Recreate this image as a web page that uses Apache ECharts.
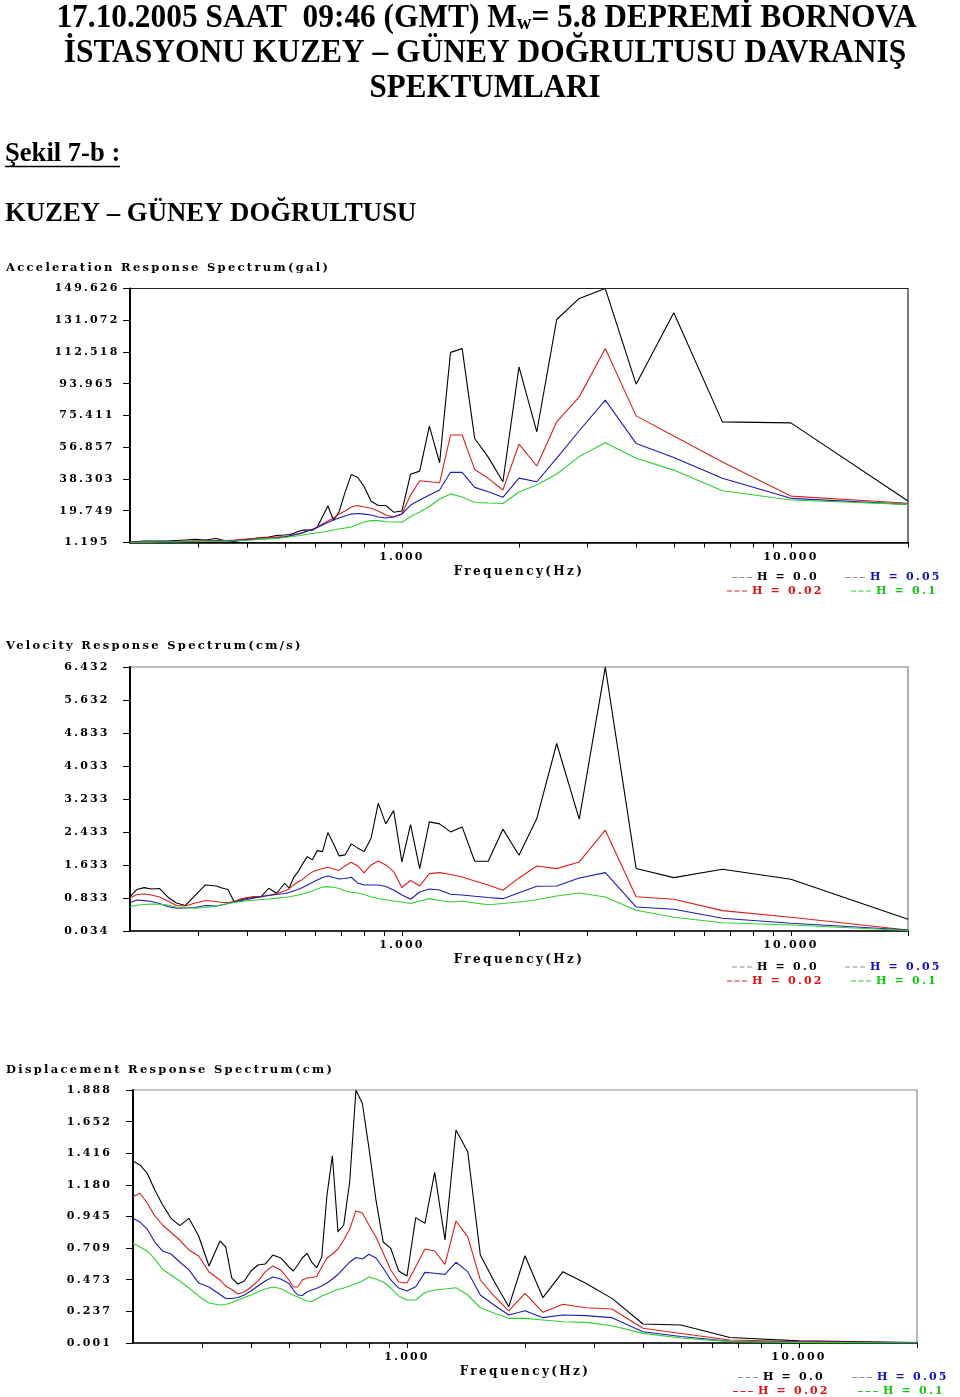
<!DOCTYPE html>
<html>
<head>
<meta charset="utf-8">
<style>
html,body{margin:0;padding:0;background:#fff;}
#c{width:960px;height:1397px;}
</style>
<script src="https://cdn.jsdelivr.net/npm/echarts@6.0.0/dist/echarts.min.js"></script>
</head>
<body>
<div id="c"></div>
<script>
// ---------------- DATA ----------------
// Periods (s) of the spectral ordinates; frequency = 1 / period
const periods = [0.05,0.10,0.15,0.20,0.25,0.30,0.35,0.40,0.45,0.50,0.55,0.60,0.65,0.70,0.75,0.80,0.85,0.90,0.95,1.00,
  1.05,1.10,1.15,1.20,1.25,1.30,1.35,1.40,1.45,1.50,1.55,1.60,1.65,1.70,1.75,1.80,1.85,1.90,1.95,2.00,
  2.1,2.2,2.3,2.4,2.5,2.6,2.7,2.8,2.9,3.0,
  3.2,3.4,3.6,3.8,4.0,4.2,4.4,4.6,4.8,5.0];

// Acceleration (gal)
const accH0 = [25.4,71.1,71.7,135.4,93.7,149.6,143.8,131.5,65.9,103.8,36.7,51.1,62.0,114.5,112.3,47.8,69.2,42.9,41.1,19.6,
  18.9,22.8,22.8,25.3,33.8,39.3,40.9,30.5,19.2,14.3,22.5,16.3,10.2,8.4,8.4,8.4,7.6,6.5,5.9,5.6,
  5.3,4.4,4.1,3.5,3.0,2.4,1.8,2.1,2.7,3.5,
  2.7,3.0,2.7,2.4,2.1,2.1,2.1,2.1,1.8,1.5];
const accH002 = [24.1,28.3,48.2,63.4,75.2,114.6,86.3,71.7,45.9,58.7,31.9,38.7,43.9,64.0,64.0,36.1,36.7,37.3,28.9,17.8,
  16.1,17.3,19.6,21.2,21.9,22.8,21.9,19.6,17.8,15.5,13.7,12.0,10.2,8.8,7.9,6.7,6.2,5.6,5.0,4.7,
  4.4,4.1,3.8,3.5,3.2,2.95,2.66,2.48,2.36,2.36,
  2.19,2.07,1.95,1.84,1.78,1.72,1.66,1.6,1.55,1.49];
const accH005 = [23.5,27.0,38.7,50.9,59.1,84.4,66.5,50.5,36.7,38.8,27.6,30.9,33.4,42.2,42.2,31.9,28.9,26.0,23.1,17.8,
  16.1,15.5,16.1,17.3,17.8,18.1,17.8,16.7,15.5,14.3,12.9,11.4,9.95,8.8,7.9,7.0,6.2,5.6,5.0,4.4,
  3.9,3.5,3.2,2.95,2.66,2.48,2.3,2.19,2.07,2.0,
  1.9,1.78,1.72,1.66,1.6,1.55,1.49,1.49,1.43,1.43];
const accH01 = [23.5,26.0,31.4,43.5,50.4,59.5,51.4,41.2,34.8,30.7,24.0,24.3,24.6,27.8,29.6,26.6,22.2,19.0,16.4,13.0,
  13.2,13.3,14.0,14.0,13.2,11.7,10.2,9.7,9.1,8.5,7.9,7.3,6.9,6.5,6.0,5.6,5.1,4.7,4.4,4.1,
  3.6,3.4,3.1,2.8,2.54,2.36,2.19,2.07,1.95,1.9,
  1.78,1.66,1.6,1.55,1.49,1.49,1.43,1.43,1.37,1.37];

// Velocity (cm/s)
const velH0 = [0.318,1.288,1.531,1.327,1.550,6.430,2.744,4.578,2.759,1.871,2.502,1.725,1.725,2.557,2.436,2.630,2.679,1.546,2.613,1.708,
  2.953,2.630,3.132,2.283,1.958,2.048,2.145,1.878,1.854,2.155,2.419,1.958,1.982,1.757,1.837,1.660,1.466,1.320,1.070,1.191,
  0.949,1.070,0.866,0.847,0.827,0.786,0.745,1.041,1.077,1.126,
  1.150,0.895,0.653,0.713,0.859,1.065,1.053,1.085,1.041,0.859];
const velH002 = [0.058,0.366,0.527,0.803,0.864,2.477,1.708,1.546,1.611,1.320,1.022,1.150,1.247,1.344,1.405,1.449,1.424,1.126,1.259,1.089,
  1.473,1.635,1.732,1.635,1.441,1.611,1.701,1.611,1.502,1.538,1.580,1.550,1.514,1.466,1.381,1.284,1.223,1.150,1.053,1.005,
  0.944,0.895,0.876,0.866,0.847,0.810,0.750,0.726,0.726,0.750,
  0.774,0.713,0.641,0.653,0.762,0.859,0.907,0.932,0.920,0.835];
const velH005 = [0.058,0.221,0.342,0.561,0.616,1.449,1.320,1.126,1.119,0.963,0.818,0.847,0.876,0.907,0.924,1.029,1.053,0.980,0.803,0.907,
  1.029,1.114,1.150,1.150,1.150,1.199,1.337,1.308,1.296,1.332,1.369,1.332,1.271,1.211,1.150,1.089,1.041,1.005,0.968,0.944,
  0.920,0.895,0.866,0.835,0.798,0.774,0.738,0.701,0.665,0.641,
  0.653,0.604,0.592,0.585,0.628,0.701,0.750,0.769,0.786,0.721];
const velH01 = [0.046,0.180,0.235,0.366,0.536,0.859,0.956,0.883,0.793,0.738,0.701,0.672,0.713,0.762,0.738,0.774,0.818,0.762,0.701,0.738,
  0.762,0.793,0.822,0.859,0.920,0.956,0.973,1.005,1.065,1.094,1.109,1.102,1.053,1.005,0.968,0.932,0.907,0.883,0.864,0.852,
  0.830,0.810,0.796,0.781,0.767,0.745,0.723,0.701,0.670,0.641,
  0.604,0.587,0.597,0.616,0.665,0.682,0.689,0.677,0.658,0.624];

// Displacement (cm)
const dispH0 = [0.005,0.017,0.042,0.135,0.143,0.334,0.446,0.533,0.339,0.652,0.272,0.463,0.657,1.428,1.590,0.769,1.274,0.894,0.936,0.501,
  0.538,0.707,0.754,1.068,1.453,1.789,1.886,1.204,0.881,0.831,1.398,1.105,0.642,0.563,0.605,0.670,0.635,0.583,0.538,0.568,
  0.635,0.657,0.590,0.583,0.538,0.463,0.441,0.486,0.717,0.762,
  0.575,0.799,0.931,0.876,0.931,1.030,1.142,1.267,1.329,1.358];
const dispH002 = [0.003,0.011,0.023,0.072,0.111,0.255,0.264,0.290,0.230,0.372,0.240,0.352,0.471,0.794,0.911,0.588,0.687,0.702,0.570,0.449,
  0.456,0.546,0.672,0.792,0.881,0.971,0.986,0.851,0.769,0.702,0.665,0.635,0.568,0.497,0.490,0.486,0.471,0.419,0.419,0.471,
  0.546,0.575,0.531,0.463,0.419,0.381,0.366,0.400,0.426,0.471,
  0.531,0.650,0.695,0.769,0.825,0.881,0.949,1.045,1.118,1.092];
const dispH005 = [0.003,0.008,0.014,0.049,0.085,0.190,0.205,0.210,0.190,0.242,0.210,0.284,0.359,0.533,0.603,0.513,0.521,0.528,0.421,0.389,
  0.411,0.471,0.560,0.635,0.663,0.628,0.639,0.605,0.558,0.512,0.478,0.449,0.426,0.410,0.396,0.381,0.355,0.359,0.396,0.445,
  0.478,0.493,0.463,0.426,0.389,0.359,0.340,0.333,0.333,0.363,
  0.419,0.449,0.546,0.605,0.665,0.687,0.754,0.851,0.903,0.931];
const dispH01 = [0.001,0.006,0.011,0.038,0.073,0.130,0.155,0.160,0.173,0.185,0.185,0.225,0.264,0.359,0.413,0.404,0.396,0.378,0.322,0.322,
  0.352,0.411,0.456,0.478,0.493,0.463,0.445,0.426,0.411,0.400,0.385,0.366,0.352,0.329,0.311,0.314,0.329,0.344,0.359,0.374,
  0.408,0.419,0.404,0.381,0.359,0.340,0.322,0.303,0.288,0.284,
  0.299,0.352,0.411,0.463,0.508,0.549,0.628,0.687,0.717,0.745];

// Tick labels
const accTicks  = [1.195,19.749,38.303,56.857,75.411,93.965,112.518,131.072,149.626];
const velTicks  = [0.034,0.833,1.633,2.433,3.233,4.033,4.833,5.632,6.432];
const dispTicks = [0.001,0.237,0.473,0.709,0.945,1.180,1.416,1.652,1.888];
const freqLabels = [1,10];
const freqTicks = [0.3,0.4,0.5,0.6,0.7,0.8,0.9,1,2,3,4,5,6,7,8,9,10,20];
const freqRange = [0.2,20];

const chartTitles = ['Acceleration Response Spectrum(gal)','Velocity Response Spectrum(cm/s)','Displacement Response Spectrum(cm)'];
const seriesNames = ['H = 0.0','H = 0.02','H = 0.05','H = 0.1'];
const legendOrder = ['H = 0.0','H = 0.05','H = 0.02','H = 0.1'];
const xAxisName = 'Frequency(Hz)';

// ---------------- wide bitmap-like lettering for the chart texts ----------------
(function(){
  const P = window.CanvasRenderingContext2D && CanvasRenderingContext2D.prototype;
  if (!P || !('letterSpacing' in P)) return;
  function apply(ctx){
    const f = ctx.font || '';
    if (f.indexOf('DejaVu Serif') >= 0) {
      const m = f.match(/(\d+(?:\.\d+)?)px/);
      const s = m ? parseFloat(m[1]) : 12;
      ctx.letterSpacing = (s * 0.2).toFixed(2) + 'px';
    } else {
      ctx.letterSpacing = '0px';
    }
  }
  ['fillText','strokeText','measureText'].forEach(function(n){
    const orig = P[n];
    P[n] = function(){ apply(this); return orig.apply(this, arguments); };
  });
})();

// ---------------- STYLE / LAYOUT ----------------
const FONT = 'DejaVu Serif';
const lineColors = {'H = 0.0':'#000000','H = 0.02':'#d8201e','H = 0.05':'#1c1cb4','H = 0.1':'#2ed02e'};
const textColors = {'H = 0.0':'#000000','H = 0.02':'#e01010','H = 0.05':'#1010c0','H = 0.1':'#10c810'};
const dashColors = {'H = 0.0':'#909090','H = 0.02':'#d82020','H = 0.05':'#909090','H = 0.1':'#30c830'};

const grids = [
  {left:130, top:288.5, width:778, height:254, borderColor:'#222'},
  {left:130, top:667, width:778, height:264, borderColor:'#7a7a7a'},
  {left:133, top:1090, width:784, height:253, borderColor:'#8a8a8a'}
];
const titleTops = [261, 639, 1063];
const yMargins = [43, 43, 43.5];
const legendPos = [
  [[732,571],[845,571],[727,584.5],[851,584.5]],
  [[732,960.5],[845,960.5],[727,974.5],[851,974.5]],
  [[738,1371],[852,1371],[733,1385],[858,1385]]
];
const dashIcon = 'path://M0,0H5V1H0Z M7.5,0H12.5V1H7.5Z M15,0H20V1H15Z';

const dataSets = [
  [accH0, accH002, accH005, accH01],
  [velH0, velH002, velH005, velH01],
  [dispH0, dispH002, dispH005, dispH01]
];
const yTicks = [accTicks, velTicks, dispTicks];

function pairs(vals){ return periods.map(function(T,i){ return [1/T, vals[i]]; }); }
function fmt3(v){ return Number(v).toFixed(3); }

const option = {
  backgroundColor:'#ffffff',
  animation:false,
  title: chartTitles.map(function(t,i){
    return {text:t, left:6, top:titleTops[i], padding:0,
      textStyle:{fontFamily:FONT, fontWeight:'bold', fontSize:11.5, color:'#000'}};
  }),
  grid: grids.map(function(g){
    return {left:g.left, top:g.top, width:g.width, height:g.height, show:true,
      borderColor:g.borderColor, borderWidth:1.2, backgroundColor:'transparent',
      containLabel:false, outerBoundsMode:'none'};
  }),
  xAxis: grids.map(function(g,i){
    return {
      type:'log', logBase:10, gridIndex:i, min:freqRange[0], max:freqRange[1],
      axisLine:{show:true, lineStyle:{color:'#000', width:1.6}},
      axisTick:{show:true, customValues:freqTicks, length:5, lineStyle:{color:'#000', width:1}},
      axisLabel:{show:true, customValues:freqLabels, formatter:fmt3, margin:8,
        fontFamily:FONT, fontWeight:'bold', fontSize:11, color:'#000'},
      splitLine:{show:false}, minorTick:{show:false}, minorSplitLine:{show:false},
      name:xAxisName, nameLocation:'middle', nameGap:20,
      nameTextStyle:{fontFamily:FONT, fontWeight:'bold', fontSize:12, color:'#000', verticalAlign:'top'}
    };
  }),
  yAxis: grids.map(function(g,i){
    const t = yTicks[i];
    return {
      type:'value', gridIndex:i, min:t[0], max:t[t.length-1],
      axisLine:{show:true, lineStyle:{color:'#000', width:2}},
      axisTick:{show:true, customValues:t, length:7, lineStyle:{color:'#000', width:1}},
      axisLabel:{show:true, customValues:t, formatter:fmt3, align:'center', margin:yMargins[i],
        fontFamily:FONT, fontWeight:'bold', fontSize:11, color:'#000'},
      splitLine:{show:false}
    };
  }),
  legend: [],
  series: [],
  graphic: [
    {type:'text', x:486.5, y:18, scaleX:0.951, silent:true,
      style:{text:'17.10.2005 SAAT  09:46 (GMT) M{w|w}= 5.8 DEPREMİ BORNOVA',
        font:'bold 33px "Liberation Serif"', fill:'#000', align:'center', textAlign:'center',
        verticalAlign:'middle', textVerticalAlign:'middle',
        rich:{w:{font:'bold 21px "Liberation Serif"', fill:'#000', verticalAlign:'bottom'}}}},
    {type:'text', x:485, y:53, scaleX:0.953, silent:true,
      style:{text:'İSTASYONU KUZEY – GÜNEY DOĞRULTUSU DAVRANIŞ',
        font:'bold 33px "Liberation Serif"', fill:'#000', align:'center', textAlign:'center',
        verticalAlign:'middle', textVerticalAlign:'middle'}},
    {type:'text', x:485, y:88, scaleX:0.94, silent:true,
      style:{text:'SPEKTUMLARI',
        font:'bold 33px "Liberation Serif"', fill:'#000', align:'center', textAlign:'center',
        verticalAlign:'middle', textVerticalAlign:'middle'}},
    {type:'text', x:5, y:154, scaleX:0.95, silent:true,
      style:{text:'Şekil 7-b :', font:'bold 28px "Liberation Serif"', fill:'#000',
        align:'left', textAlign:'left', verticalAlign:'middle', textVerticalAlign:'middle'}},
    {type:'line', silent:true, shape:{x1:5, y1:166.5, x2:120, y2:166.5}, style:{stroke:'#000', lineWidth:1.5}},
    {type:'text', x:5, y:214, scaleX:0.955, silent:true,
      style:{text:'KUZEY – GÜNEY DOĞRULTUSU', font:'bold 28px "Liberation Serif"', fill:'#000',
        align:'left', textAlign:'left', verticalAlign:'middle', textVerticalAlign:'middle'}}
  ]
};

for (let i = 0; i < 3; i++) {
  seriesNames.forEach(function(name, k){
    option.series.push({
      type:'line', name:name, xAxisIndex:i, yAxisIndex:i,
      data:pairs(dataSets[i][k]), showSymbol:false, symbol:'none',
      lineStyle:{color:lineColors[name], width:1.1}, itemStyle:{color:lineColors[name]},
      emphasis:{disabled:true}, z:2+k
    });
  });
  legendOrder.forEach(function(name, k){
    const p = legendPos[i][k];
    option.legend.push({
      left:p[0], top:p[1], padding:0, selectedMode:false,
      icon:dashIcon, itemWidth:20, itemHeight:1.6, itemGap:0,
      data:[{name:name, icon:dashIcon, itemStyle:{color:dashColors[name]},
             textStyle:{color:textColors[name]}}],
      textStyle:{fontFamily:FONT, fontWeight:'bold', fontSize:11, color:textColors[name]}
    });
  });
}

const chart = echarts.init(document.getElementById('c'), null, {renderer:'canvas', width:960, height:1397});
chart.setOption(option);
</script>
</body>
</html>
